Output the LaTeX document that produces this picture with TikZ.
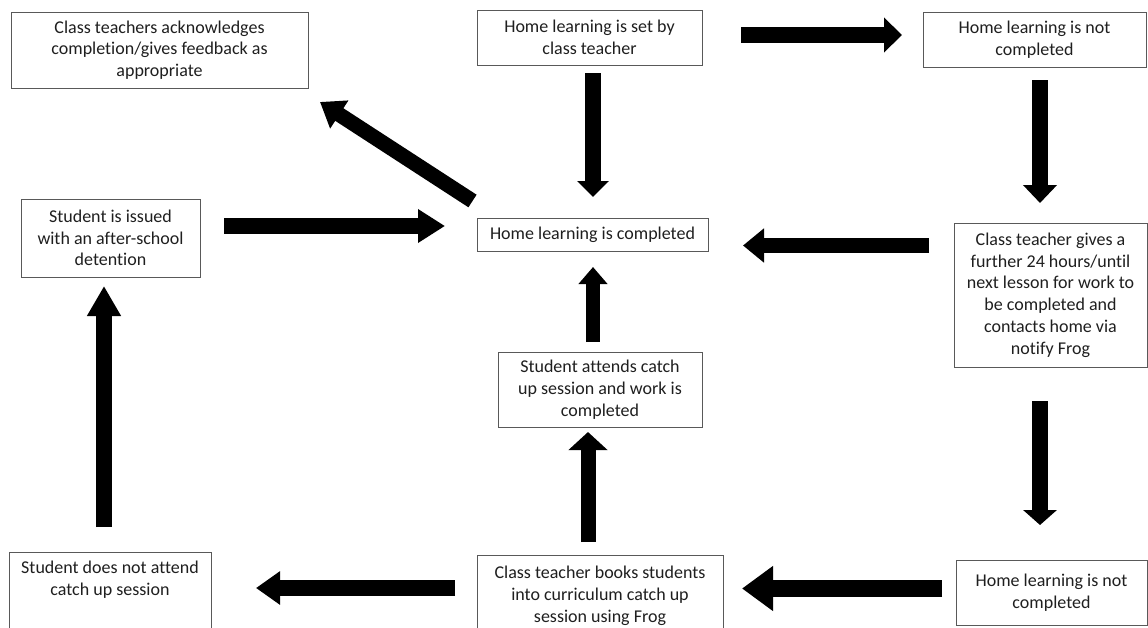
\documentclass[tikz,border=0pt]{standalone}
\usepackage{fontspec}
\setmainfont{Carlito}[Ligatures={NoCommon,NoRare,NoContextual}]
\usetikzlibrary{arrows.meta}
\tikzset{
  box/.style={draw=black!65, line width=0.8pt, align=center, inner sep=0pt,
    font=\fontsize{18}{21.8}\selectfont, text=black!88},
  fatarrow/.style n args={3}{draw=black, line width=#1, line cap=butt,
    -{Triangle[width=#2,length=#3]}}
}
\begin{document}
\begin{tikzpicture}[x=1pt,y=-1pt]
\fill[white] (0,0) rectangle (1148,627);
\useasboundingbox (0,0) rectangle (1148,627);
\begin{scope}
\clip (0,0) rectangle (1148,627);
% boxes
\node[box, minimum width=297pt, minimum height=76pt] (A) at (159.5,50)
  {Class teachers acknowledges\\completion/gives feedback as\\appropriate};
\node[box, minimum width=225pt, minimum height=55pt] (B) at (589.5,37.5)
  {Home learning is set by\\class teacher};
\node[box, minimum width=223pt, minimum height=55pt] (C) at (1034.5,39.5)
  {Home learning is not\\completed};
\node[box, minimum width=179pt, minimum height=78pt] (D) at (110.5,238)
  {Student is issued\\with an after-school\\detention};
\node[box, minimum width=231pt, minimum height=33pt] (E) at (592.5,234.5)
  {Home learning is completed};
\node[box, minimum width=193pt, minimum height=144pt] (F) at (1050.5,295)
  {Class teacher gives a\\further 24 hours/until\\next lesson for work to\\be completed and\\contacts home via\\notify Frog};
\node[box, minimum width=204pt, minimum height=75pt] (G) at (600,389.5)
  {Student attends catch\\up session and work is\\completed};
\node[box, minimum width=202pt, minimum height=96pt, anchor=north] (H) at (110,552)
  {Student does not attend\\catch up session\\\mbox{}\\\mbox{}};
\node[box, minimum width=246pt, minimum height=82pt] (I) at (600,596)
  {Class teacher books students\\into curriculum catch up\\session using Frog};
\node[box, minimum width=191pt, minimum height=65pt] (J) at (1051.5,592.5)
  {Home learning is not\\completed};
% arrow end points
\coordinate (a1s) at (741,35);    \coordinate (a1e) at (902,35);
\coordinate (a2s) at (593,73);    \coordinate (a2e) at (593,197);
\coordinate (a3s) at (1040,80);   \coordinate (a3e) at (1040,203);
\coordinate (a4s) at (472.5,201); \coordinate (a4e) at (320,102);
\coordinate (a5s) at (224,226);   \coordinate (a5e) at (445,226);
\coordinate (a6s) at (929,245.5); \coordinate (a6e) at (743,245.5);
\coordinate (a7s) at (593,342);   \coordinate (a7e) at (593,267);
\coordinate (a8s) at (588,542);   \coordinate (a8e) at (588,432);
\coordinate (a9s) at (1040,401);  \coordinate (a9e) at (1040,525);
\coordinate (a10s) at (942,588.5); \coordinate (a10e) at (742,588.5);
\coordinate (a11s) at (455,588);  \coordinate (a11e) at (256,588);
\coordinate (a12s) at (104,527);  \coordinate (a12e) at (104,286);
% arrows
\draw[fatarrow={16pt}{34pt}{18pt}] (a1s) -- (a1e);
\draw[fatarrow={16pt}{31pt}{16pt}] (a2s) -- (a2e);
\draw[fatarrow={16pt}{33pt}{18pt}] (a3s) -- (a3e);
\draw[fatarrow={15pt}{32pt}{23pt}] (a4s) -- (a4e);
\draw[fatarrow={16pt}{32pt}{27pt}] (a5s) -- (a5e);
\draw[fatarrow={15pt}{33pt}{21pt}] (a6s) -- (a6e);
\draw[fatarrow={14pt}{28pt}{17pt}] (a7s) -- (a7e);
\draw[fatarrow={15pt}{38pt}{18pt}] (a8s) -- (a8e);
\draw[fatarrow={16pt}{33pt}{15pt}] (a9s) -- (a9e);
\draw[fatarrow={17pt}{43pt}{31pt}] (a10s) -- (a10e);
\draw[fatarrow={16pt}{32pt}{24pt}] (a11s) -- (a11e);
\draw[fatarrow={16pt}{32pt}{30pt}] (a12s) -- (a12e);
\end{scope}
\end{tikzpicture}
\end{document}
